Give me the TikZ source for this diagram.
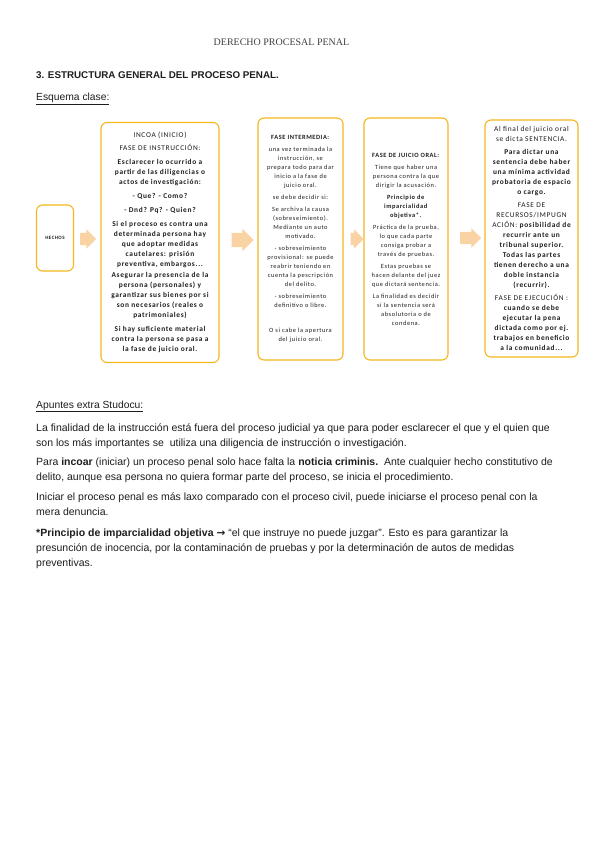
\documentclass[tikz,border=0pt]{standalone}
\usepackage{fontspec}
\setmainfont{Liberation Sans}
\newfontfamily\timesfont{Liberation Serif}
\newfontfamily\calfont[LetterSpace=9]{Carlito}
\newfontfamily\flechafont{DejaVu Sans}
\usetikzlibrary{shapes.arrows}

\definecolor{oro}{HTML}{F5B81C}
\definecolor{melocoton}{HTML}{FAD3A4}
\definecolor{tinta}{HTML}{1E1E1E}

\begin{document}
\begin{tikzpicture}[
  x=1pt, y=-1pt,
  caja/.style={rounded corners=6pt, draw=oro, line width=1.1pt, fill=white, align=center, inner sep=0pt, text=tinta},
  flecha/.style={single arrow, draw=none, fill=melocoton, single arrow head extend=3.5pt, single arrow head indent=0pt, inner xsep=0pt, inner ysep=6pt, text height=0pt, text depth=0pt},
  parrafo/.style={anchor=north west, align=left, inner sep=0pt, font=\fontsize{10.5}{15}\selectfont, text=tinta},
  titulo/.style={anchor=base west, inner sep=0pt, text=tinta}
]
\fill[white] (0,0) rectangle (599,848);
\useasboundingbox (0,0) rectangle (599,848);

%% ---------- Encabezado ----------
\node[inner sep=0pt, anchor=base, font=\timesfont\fontsize{10}{12}\selectfont, text=tinta!85] (cabecera) at (281.5,46) {DERECHO PROCESAL PENAL};
\node[titulo, font=\bfseries\fontsize{9.8}{12}\selectfont] (seccion) at (36,79) {3. ESTRUCTURA GENERAL DEL PROCESO PENAL.};
\node[titulo, font=\fontsize{10.3}{12}\selectfont] (esquema) at (36,101) {\underline{Esquema clase:}};

%% ---------- Esquema (cajas) ----------
\node[caja, minimum width=37pt, minimum height=66pt, font=\calfont\bfseries\fontsize{5}{6}\selectfont] (hechos) at (55,238) {HECHOS};

\node[caja, minimum width=118pt, minimum height=240pt, font=\calfont\bfseries\fontsize{7.4}{10.2}\selectfont] (instruccion) at (160,242.5) {%
\mdseries INCOA (INICIO)\\[3.5pt]
\mdseries FASE DE INSTRUCCIÓN:\\[3.5pt]
Esclarecer lo ocurrido a\\ partir de las diligencias o\\ actos de investigación:\\[3.5pt]
- Que? - Como?\\[3.5pt]
- Dnd? Pq? - Quien?\\[3.5pt]
Si el proceso es contra una\\ determinada persona hay\\ que adoptar medidas\\ cautelares: prisión\\ preventiva, embargos...\\
Asegurar la presencia de la\\ persona (personales) y\\ garantizar sus bienes por si\\ son necesarios (reales o\\ patrimoniales)\\[3.5pt]
Si hay suficiente material\\ contra la persona se pasa a\\ la fase de juicio oral.};

\node[caja, minimum width=85pt, minimum height=242pt, font=\calfont\fontsize{6.4}{9}\selectfont] (intermedia) at (300.5,239) {%
\textbf{FASE INTERMEDIA:}\\[3pt]
una vez terminada la\\ instrucción, se\\ prepara todo para dar\\ inicio a la fase de\\ juicio oral.\\[3pt]
se debe decidir si:\\[3pt]
Se archiva la causa\\ (sobreseimiento).\\ Mediante un auto\\ motivado.\\[3pt]
- sobreseimiento\\ provisional: se puede\\ reabrir teniendo en\\ cuenta la pescripción\\ del delito.\\[3pt]
- sobreseimiento\\ definitivo o libre.\\[16pt]
O si cabe la apertura\\ del juicio oral.};

\node[caja, minimum width=84pt, minimum height=242pt, font=\calfont\fontsize{6.4}{9}\selectfont] (juicio) at (406,239) {%
\textbf{FASE DE JUICIO ORAL:}\\[3pt]
Tiene que haber una\\ persona contra la que\\ dirigir la acusación.\\[3pt]
\textbf{Principio de}\\ \textbf{imparcialidad}\\ \textbf{objetiva*.}\\[3pt]
Práctica de la prueba,\\ lo que cada parte\\ consiga probar a\\ través de pruebas.\\[3pt]
Estas pruebas se\\ hacen delante del juez\\ que dictará sentencia.\\[3pt]
La finalidad es decidir\\ si la sentencia será\\ absolutoria o de\\ condena.};

\node[caja, minimum width=93pt, minimum height=237pt, font=\calfont\bfseries\fontsize{7.4}{10}\selectfont] (sentencia) at (531.5,238.5) {%
\mdseries Al final del juicio oral\\ \mdseries se dicta SENTENCIA.\\[3pt]
Para dictar una\\ sentencia debe haber\\ una mínima actividad\\ probatoria de espacio\\ o cargo.\\[3pt]
\mdseries FASE DE\\ \mdseries RECURSOS/IMPUGN\\ {\mdseries ACIÓN:} posibilidad de\\ recurrir ante un\\ tribunal superior.\\ Todas las partes\\ tienen derecho a una\\ doble instancia\\ (recurrir).\\[3pt]
\mdseries FASE DE EJECUCIÓN :\\ cuando se debe\\ ejecutar la pena\\ dictada como por ej.\\ trabajos en beneficio\\ a la comunidad...};

%% ---------- Flechas entre fases ----------
\node[flecha, minimum height=16pt] (f1) at (85,239) {};
\node[flecha, minimum height=22pt, inner ysep=7pt, single arrow head extend=4pt] (f2) at (239,240) {};
\node[flecha, minimum height=13pt] (f3) at (354,239) {};
\node[flecha, minimum height=21pt] (f4) at (467.5,238) {};

%% ---------- Apuntes ----------
\node[titulo, font=\fontsize{10.3}{12}\selectfont] (apuntes) at (36,408) {\underline{Apuntes extra Studocu:}};

\node[parrafo] (p1) at (36,423.5) {La finalidad de la instrucción está fuera del proceso judicial ya que para poder esclarecer el que y el quien que\\ son los más importantes se\ \ utiliza una diligencia de instrucción o investigación.};
\node[parrafo] (p2) at (36,457.5) {Para \textbf{incoar} (iniciar) un proceso penal solo hace falta la \textbf{noticia criminis.}\ \ Ante cualquier hecho constitutivo de\\ delito, aunque esa persona no quiera formar parte del proceso, se inicia el procedimiento.};
\node[parrafo] (p3) at (36,492.5) {Iniciar el proceso penal es más laxo comparado con el proceso civil, puede iniciarse el proceso penal con la\\ mera denuncia.};
\node[parrafo] (p4) at (36,528.5) {\textbf{*Principio de imparcialidad objetiva} {\flechafont\bfseries →} “el que instruye no puede juzgar”. Esto es para garantizar la\\ presunción de inocencia, por la contaminación de pruebas y por la determinación de autos de medidas\\ preventivas.};

\end{tikzpicture}
\end{document}
